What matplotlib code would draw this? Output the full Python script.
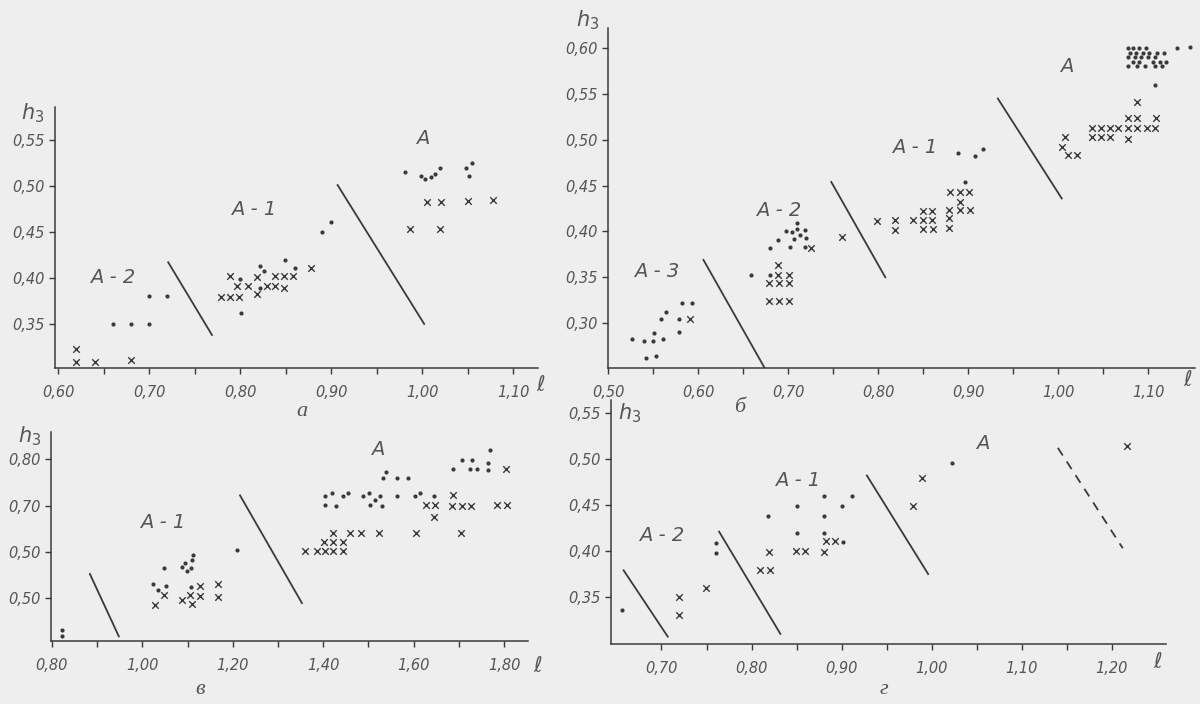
import matplotlib
matplotlib.use("Agg")
import matplotlib.pyplot as plt
from matplotlib.ticker import FixedLocator, FixedFormatter

BG = "#eeeeee"
INK = "#3a3a3a"
TXT = "#555555"

# ---------------- panel а ----------------
a_cross_x = [0.620, 0.620, 0.641, 0.680,
             0.779, 0.789, 0.799, 0.789, 0.797, 0.809, 0.819, 0.819, 0.830, 0.838, 0.848, 0.838, 0.848, 0.858, 0.878,
             1.005, 1.020, 1.050, 1.078, 0.987, 1.019]
a_cross_y = [0.323, 0.308, 0.308, 0.311,
             0.379, 0.379, 0.379, 0.402, 0.391, 0.391, 0.401, 0.382, 0.391, 0.391, 0.389, 0.402, 0.402, 0.402, 0.411,
             0.483, 0.483, 0.484, 0.485, 0.453, 0.453]
a_dot_x = [0.66, 0.68, 0.70, 0.70, 0.72,
           0.800, 0.801, 0.822, 0.826, 0.822, 0.849, 0.860,
           0.890, 0.900,
           0.981, 0.998, 1.003, 1.010, 1.014, 1.019, 1.048, 1.055, 1.051]
a_dot_y = [0.35, 0.35, 0.35, 0.38, 0.38,
           0.399, 0.362, 0.413, 0.408, 0.389, 0.420, 0.411,
           0.450, 0.461,
           0.515, 0.511, 0.508, 0.510, 0.513, 0.520, 0.520, 0.525, 0.511]
a_bound_x = [[0.721, 0.769], [0.907, 1.002]]
a_bound_y = [[0.417, 0.338], [0.501, 0.350]]
a_regions = ["A - 2", "A - 1", "A"]
a_region_x = [0.66, 0.815, 1.00]
a_region_y = [0.40, 0.474, 0.552]
a_xticks = [0.60, 0.70, 0.80, 0.90, 1.00, 1.10]
a_xlabels = ["0,60", "0,70", "0,80", "0,90", "1,00", "1,10"]
a_xminor = [0.65, 0.75, 0.85, 0.95, 1.05]
a_yticks = [0.35, 0.40, 0.45, 0.50, 0.55]
a_ylabels = ["0,35", "0,40", "0,45", "0,50", "0,55"]

# ---------------- panel б ----------------
b_cluster_x = [1.078, 1.083, 1.090, 1.098,
               1.080, 1.087, 1.094, 1.101, 1.110, 1.118,
               1.078, 1.085, 1.092, 1.100, 1.108,
               1.083, 1.090, 1.105, 1.113, 1.120,
               1.078, 1.088, 1.097, 1.108, 1.115]
b_cluster_y = [0.600, 0.600, 0.600, 0.600,
               0.595, 0.595, 0.595, 0.595, 0.595, 0.595,
               0.590, 0.590, 0.590, 0.590, 0.590,
               0.585, 0.585, 0.585, 0.585, 0.585,
               0.580, 0.580, 0.580, 0.580, 0.580]
b_dot_x = [0.527, 0.540, 0.550, 0.561, 0.551, 0.542, 0.553, 0.559, 0.564, 0.579, 0.579, 0.582, 0.593,
           0.659, 0.680, 0.680, 0.689, 0.698, 0.704, 0.710, 0.710, 0.713, 0.719, 0.720, 0.702, 0.707, 0.719,
           0.897, 0.889, 0.908, 0.917,
           1.108, 1.132, 1.146] + b_cluster_x
b_dot_y = [0.283, 0.280, 0.280, 0.283, 0.289, 0.262, 0.264, 0.305, 0.312, 0.290, 0.305, 0.322, 0.322,
           0.353, 0.353, 0.382, 0.391, 0.400, 0.399, 0.409, 0.403, 0.396, 0.402, 0.393, 0.383, 0.392, 0.383,
           0.454, 0.486, 0.482, 0.490,
           0.560, 0.600, 0.601] + b_cluster_y
b_cross_x = [0.591,
             0.689, 0.689, 0.701, 0.679, 0.690, 0.701, 0.679, 0.690, 0.701, 0.726,
             0.760,
             0.799, 0.819, 0.819, 0.839, 0.850, 0.860, 0.850, 0.860, 0.850, 0.861, 0.879, 0.879, 0.879,
             0.891, 0.902, 0.891, 0.880, 0.891, 0.901,
             1.008, 1.004, 1.011, 1.021, 1.038, 1.048, 1.058, 1.067, 1.038, 1.048, 1.058,
             1.078, 1.088, 1.109, 1.078, 1.088, 1.099, 1.108, 1.078, 1.088]
b_cross_y = [0.305,
             0.363, 0.353, 0.353, 0.344, 0.344, 0.344, 0.324, 0.324, 0.324, 0.382,
             0.394,
             0.411, 0.412, 0.402, 0.412, 0.412, 0.412, 0.422, 0.422, 0.403, 0.403, 0.423, 0.415, 0.404,
             0.423, 0.423, 0.432, 0.443, 0.443, 0.443,
             0.503, 0.492, 0.483, 0.483, 0.513, 0.513, 0.513, 0.513, 0.503, 0.503, 0.503,
             0.524, 0.524, 0.524, 0.513, 0.513, 0.513, 0.513, 0.501, 0.541]
b_bound_x = [[0.606, 0.674], [0.748, 0.808], [0.933, 1.004]]
b_bound_y = [[0.369, 0.251], [0.454, 0.350], [0.545, 0.436]]
b_regions = ["A - 3", "A - 2", "A - 1", "A"]
b_region_x = [0.554, 0.689, 0.841, 1.010]
b_region_y = [0.356, 0.423, 0.492, 0.580]
b_xticks = [0.50, 0.60, 0.70, 0.80, 0.90, 1.00, 1.10]
b_xlabels = ["0,50", "0,60", "0,70", "0,80", "0,90", "1,00", "1,10"]
b_xminor = [0.55, 0.65, 0.75, 0.85, 0.95, 1.05]
b_yticks = [0.30, 0.35, 0.40, 0.45, 0.50, 0.55, 0.60]
b_ylabels = ["0,30", "0,35", "0,40", "0,45", "0,50", "0,55", "0,60"]

# ---------------- panel в ----------------
v_dot_x = [0.823, 0.822,
           1.024, 1.035, 1.048, 1.052, 1.088, 1.094, 1.098, 1.107, 1.110, 1.112, 1.107, 1.209,
           1.404, 1.419, 1.404, 1.428, 1.444, 1.455, 1.488, 1.501, 1.503, 1.515, 1.526, 1.530,
           1.532, 1.539, 1.563, 1.588, 1.563, 1.603, 1.614, 1.645,
           1.687, 1.707, 1.729, 1.725, 1.740, 1.765, 1.765, 1.769]
v_dot_y = [0.430, 0.418,
           0.530, 0.517, 0.565, 0.526, 0.567, 0.576, 0.559, 0.565, 0.583, 0.594, 0.524, 0.604,
           0.720, 0.728, 0.702, 0.700, 0.720, 0.728, 0.720, 0.728, 0.702, 0.713, 0.720, 0.700,
           0.760, 0.772, 0.759, 0.759, 0.720, 0.720, 0.728, 0.720,
           0.778, 0.798, 0.798, 0.778, 0.780, 0.793, 0.776, 0.820]
v_cross_x = [1.028, 1.048, 1.088, 1.105, 1.109, 1.127, 1.127, 1.167, 1.167,
             1.360, 1.386, 1.404, 1.422, 1.444, 1.402, 1.422, 1.444,
             1.422, 1.459, 1.484, 1.523, 1.605, 1.705,
             1.627, 1.647, 1.645, 1.687, 1.685, 1.707, 1.727, 1.785, 1.807, 1.804]
v_cross_y = [0.485, 0.507, 0.496, 0.507, 0.487, 0.526, 0.505, 0.530, 0.502,
             0.602, 0.602, 0.602, 0.602, 0.602, 0.622, 0.622, 0.622,
             0.641, 0.641, 0.641, 0.641, 0.641, 0.641,
             0.702, 0.702, 0.675, 0.722, 0.700, 0.700, 0.700, 0.702, 0.702, 0.778]
v_bound_x = [[0.884, 0.948], [1.216, 1.353]]
v_bound_y = [[0.552, 0.417], [0.722, 0.489]]
v_regions = ["A - 1", "A"]
v_region_x = [1.046, 1.521]
v_region_y = [0.663, 0.822]
v_xticks = [0.80, 1.00, 1.20, 1.40, 1.60, 1.80]
v_xlabels = ["0,80", "1,00", "1,20", "1,40", "1,60", "1,80"]
v_xminor = [0.90, 1.10, 1.30, 1.50, 1.70]
v_yticks = [0.50, 0.60, 0.70, 0.80]
v_ylabels = ["0,50", "0,50", "0,70", "0,80"]

# ---------------- panel г ----------------
g_dot_x = [0.656, 0.761, 0.761, 0.818, 0.850, 0.850, 0.880, 0.880, 0.880, 0.900, 0.911, 0.902, 1.022]
g_dot_y = [0.336, 0.409, 0.398, 0.438, 0.449, 0.420, 0.460, 0.438, 0.420, 0.449, 0.460, 0.410, 0.496]
g_cross_x = [0.720, 0.720, 0.749, 0.809, 0.820, 0.819, 0.849, 0.859, 0.880, 0.883, 0.893, 0.979, 0.989, 1.217]
g_cross_y = [0.350, 0.330, 0.360, 0.379, 0.379, 0.399, 0.400, 0.400, 0.399, 0.411, 0.411, 0.449, 0.479, 0.514]
g_bound_x = [[0.658, 0.707], [0.764, 0.832], [0.928, 0.996]]
g_bound_y = [[0.379, 0.307], [0.421, 0.310], [0.482, 0.375]]
g_dash_x = [1.140, 1.212]
g_dash_y = [0.512, 0.403]
g_regions = ["A - 2", "A - 1", "A"]
g_region_x = [0.700, 0.851, 1.057]
g_region_y = [0.417, 0.477, 0.517]
g_xticks = [0.70, 0.80, 0.90, 1.00, 1.10, 1.20]
g_xlabels = ["0,70", "0,80", "0,90", "1,00", "1,10", "1,20"]
g_xminor = [0.75, 0.85, 0.95, 1.05, 1.15]
g_yticks = [0.35, 0.40, 0.45, 0.50, 0.55]
g_ylabels = ["0,35", "0,40", "0,45", "0,50", "0,55"]

panel_letters = ["а", "б", "в", "г"]

W, H = 1200, 704
fig = plt.figure(figsize=(W / 100, H / 100), dpi=100, facecolor=BG)


def box(l, t, r, b):
    return [l / W, 1 - b / H, (r - l) / W, (b - t) / H]


def setup(ax, xlim, ylim, xt, xl, xm, yt, yl):
    ax.set_facecolor(BG)
    ax.set_xlim(*xlim)
    ax.set_ylim(*ylim)
    for s in ("top", "right"):
        ax.spines[s].set_visible(False)
    for s in ("left", "bottom"):
        ax.spines[s].set_color(INK)
        ax.spines[s].set_linewidth(1.1)
    ax.xaxis.set_major_locator(FixedLocator(xt))
    ax.xaxis.set_major_formatter(FixedFormatter(xl))
    ax.xaxis.set_minor_locator(FixedLocator(xm))
    ax.yaxis.set_major_locator(FixedLocator(yt))
    ax.yaxis.set_major_formatter(FixedFormatter(yl))
    ax.tick_params(which="both", direction="out", length=4, width=1, color=INK,
                   labelcolor=TXT, labelsize=10.5)
    ax.tick_params(axis="x", pad=8)
    for lab in ax.get_xticklabels() + ax.get_yticklabels():
        lab.set_fontstyle("italic")


def draw(ax, cx, cy, dx, dy, bx, by, rn, rx, ry):
    ax.scatter(dx, dy, s=9, color=INK, marker="o", linewidths=0, zorder=3)
    ax.scatter(cx, cy, s=22, color=INK, marker="x", linewidths=1.0, zorder=3)
    for xs, ys in zip(bx, by):
        ax.plot(xs, ys, color=INK, lw=1.3)
    for t, x, y in zip(rn, rx, ry):
        ax.text(x, y, t, fontsize=14, fontstyle="italic", color=TXT, ha="center", va="center")


def ftext(px, py, s, **kw):
    fig.text(px / W, 1 - py / H, s, ha="center", va="center", color=TXT, **kw)


# panel а
ax1 = fig.add_axes(box(55, 107, 538, 368))
setup(ax1, (0.5967, 1.127), (0.302, 0.586), a_xticks, a_xlabels, a_xminor, a_yticks, a_ylabels)
draw(ax1, a_cross_x, a_cross_y, a_dot_x, a_dot_y, a_bound_x, a_bound_y, a_regions, a_region_x, a_region_y)

# panel б
ax2 = fig.add_axes(box(608, 28, 1195, 368))
setup(ax2, (0.5, 1.152), (0.251, 0.622), b_xticks, b_xlabels, b_xminor, b_yticks, b_ylabels)
draw(ax2, b_cross_x, b_cross_y, b_dot_x, b_dot_y, b_bound_x, b_bound_y, b_regions, b_region_x, b_region_y)

# panel в
ax3 = fig.add_axes(box(51, 432, 528, 641))
setup(ax3, (0.798, 1.853), (0.407, 0.859), v_xticks, v_xlabels, v_xminor, v_yticks, v_ylabels)
draw(ax3, v_cross_x, v_cross_y, v_dot_x, v_dot_y, v_bound_x, v_bound_y, v_regions, v_region_x, v_region_y)

# panel г
ax4 = fig.add_axes(box(611, 400, 1166, 644))
setup(ax4, (0.644, 1.26), (0.299, 0.564), g_xticks, g_xlabels, g_xminor, g_yticks, g_ylabels)
draw(ax4, g_cross_x, g_cross_y, g_dot_x, g_dot_y, g_bound_x, g_bound_y, g_regions, g_region_x, g_region_y)
ax4.plot(g_dash_x, g_dash_y, color=INK, lw=1.3, linestyle=(0, (5, 4)))

# axis names and panel letters
for px, py in [(33, 113), (588, 20), (30, 436), (630, 413)]:
    ftext(px, py, r"$h_3$", fontsize=15)
for px, py in [(541, 385), (1188, 380), (538, 666), (1158, 662)]:
    ftext(px, py, r"$\ell$", fontsize=15)
for (px, py), s in zip([(302, 411), (740, 408), (200, 690), (884, 690)], panel_letters):
    ftext(px, py, s, fontsize=16, fontstyle="italic", family="Liberation Serif")

fig.savefig("out.png", dpi=100, facecolor=BG)
